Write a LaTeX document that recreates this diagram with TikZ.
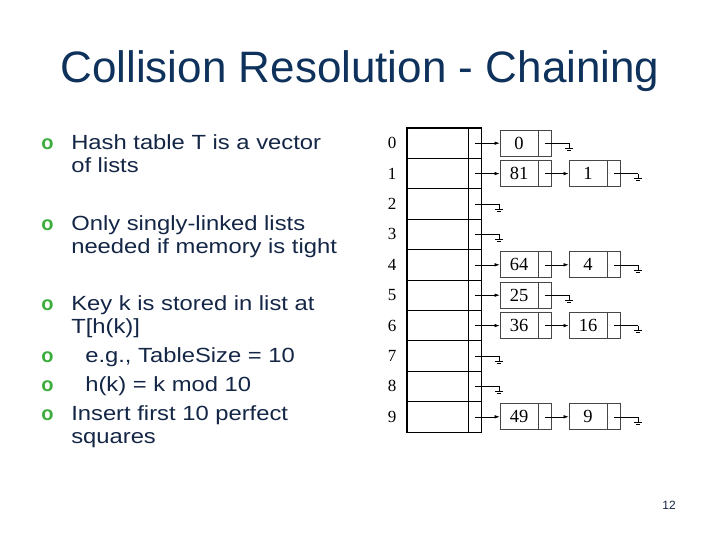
\documentclass[tikz,border=0pt]{standalone}
\usepackage{fontspec}
\setmainfont{Liberation Sans}
\newfontfamily\bodyfont{Liberation Sans}[FakeStretch=1.16]
\newfontfamily\tabfont{Liberation Serif}
\usetikzlibrary{arrows.meta,positioning}
\definecolor{titleblue}{RGB}{14,50,92}
\definecolor{textblue}{RGB}{20,38,70}
\definecolor{bulletgreen}{RGB}{60,172,60}
\definecolor{boxgray}{RGB}{70,70,70}

\tikzset{
  slot/.style={draw,line width=0.9pt,minimum width=61pt,minimum height=30.4pt,inner sep=0pt},
  ptrcell/.style={draw,line width=0.9pt,minimum width=13pt,minimum height=30.4pt,inner sep=0pt},
  keybox/.style={draw=boxgray,line width=0.8pt,minimum width=38pt,minimum height=26pt,inner sep=0pt,
    font=\tabfont\fontsize{18.5}{18.5}\selectfont},
  nextbox/.style={draw=boxgray,line width=0.8pt,minimum width=13pt,minimum height=26pt,inner sep=0pt},
  idx/.style={font=\tabfont\fontsize{17}{17}\selectfont},
  line/.style={anchor=base west,inner sep=0pt,text=textblue,font=\bodyfont\fontsize{20.5}{23}\selectfont},
  bullet/.style={anchor=base west,inner sep=0pt,text=bulletgreen,font=\bfseries\fontsize{20}{20}\selectfont},
  gnd/.pic={\draw (0,0) -- (0,5) (-4,5) -- (4,5) (-2,7) -- (2,7);}
}

\begin{document}
\begin{tikzpicture}[x=1pt,y=-1pt,>={Latex[length=5pt,width=3.5pt]},line width=0.6pt]
  \useasboundingbox (0,0) rectangle (720,540);
  \node[anchor=base,inner sep=0pt,text=titleblue,font=\fontsize{44}{44}\selectfont] (title) at (360,83)
    {Collision Resolution - Chaining};
  % bullet points
  \foreach \y/\nm in {150/b1,230/b2,310/b3,362/b4,391/b5,420/b6}
    \node[bullet] (\nm) at (41,\y) {o};
  \node[line] (l1) at (71,150) {Hash table T is a vector};
  \node[line] (l2) at (71,173) {of lists};
  \node[line] (l3) at (71,230) {Only singly-linked lists};
  \node[line] (l4) at (71,253) {needed if memory is tight};
  \node[line] (l5) at (71,310) {Key k is stored in list at};
  \node[line] (l6) at (71,333) {T[h(k)]};
  \node[line] (l7) at (85,362) {e.g., TableSize = 10};
  \node[line] (l8) at (85,391) {h(k) = k mod 10};
  \node[line] (l9) at (71,420) {Insert first 10 perfect};
  \node[line] (l10) at (71,443) {squares};
  \node[anchor=base,inner sep=0pt,text=textblue,font=\fontsize{12}{12}\selectfont] (page) at (669,509) {12};
  % table T
  \foreach \i in {0,...,9} {
    \node[slot] (slot\i) at (437.5,{143.2+30.4*\i}) {};
    \node[ptrcell] (ptr\i) at (474.5,{143.2+30.4*\i}) {};
    \node[idx] (idx\i) at (392,{143.2+30.4*\i}) {\i};
  }
  \draw[line width=1.1pt] (slot0.north west) rectangle (ptr9.south east);
  % first list cells
  \foreach \i/\k in {0/0,1/81,4/64,5/25,6/36,9/49} {
    \node[keybox] (a\i) at (519,{143.2+30.4*\i}) {\k};
    \node[nextbox,right=0pt of a\i] (an\i) {};
    \draw[->] (ptr\i.center) -- (a\i);
  }
  % second list cells
  \foreach \i/\k in {1/1,4/4,6/16,9/9} {
    \node[keybox] (b\i) at (588,{143.2+30.4*\i}) {\k};
    \node[nextbox,right=0pt of b\i] (bn\i) {};
    \draw[->] (an\i.center) -- (b\i);
  }
  % null pointers
  \foreach \i in {2,3,7,8} {
    \coordinate (z\i) at (499,{143.2+30.4*\i});
    \draw (ptr\i.center) -- (z\i) pic {gnd};
  }
  \foreach \i in {0,5} {
    \coordinate (z\i) at (569,{143.2+30.4*\i});
    \draw (an\i.center) -- (z\i) pic {gnd};
  }
  \foreach \i in {1,4,6,9} {
    \coordinate (z\i) at (638,{143.2+30.4*\i});
    \draw (bn\i.center) -- (z\i) pic {gnd};
  }
\end{tikzpicture}
\end{document}
